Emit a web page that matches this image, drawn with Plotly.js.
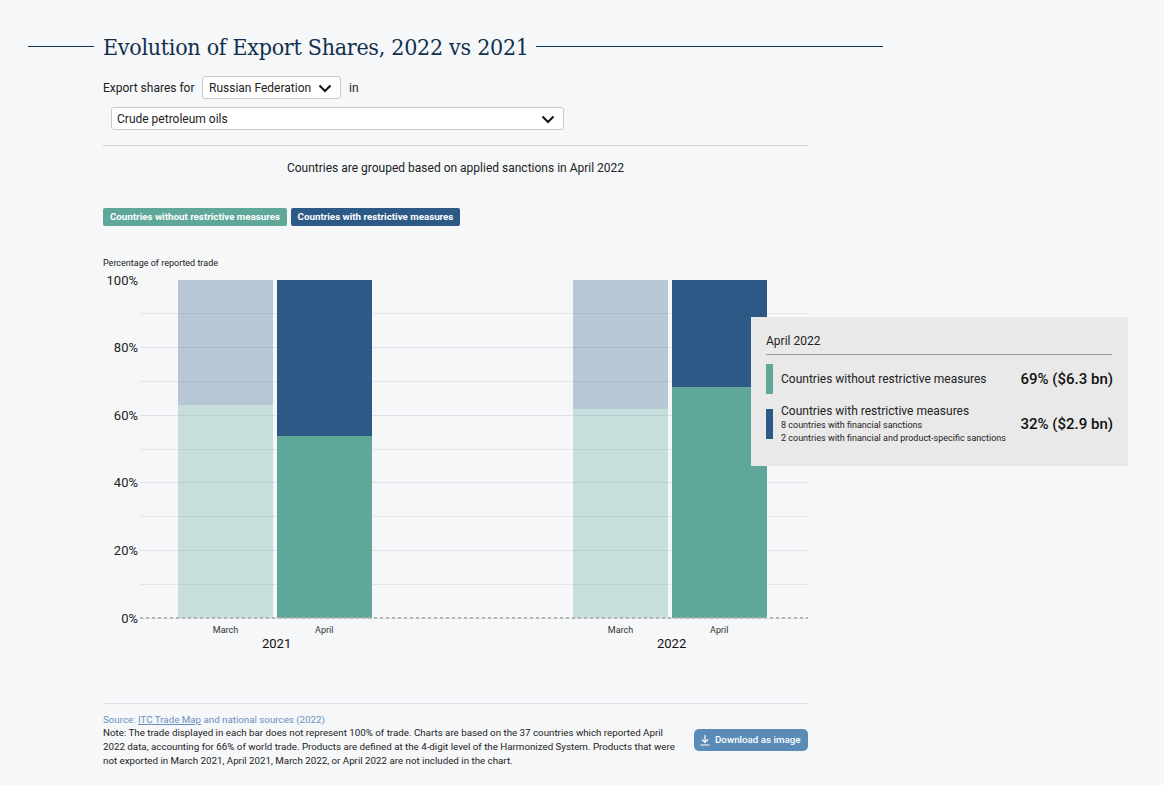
<!DOCTYPE html>
<html><head><meta charset="utf-8">
<script src="https://cdn.plot.ly/plotly-3.0.1.min.js"></script>
<style>
html,body{margin:0;padding:0;background:#f5f7f9;width:1164px;height:785px;overflow:hidden;font-family:Roboto,sans-serif;color:#222;}
.a{position:absolute;white-space:nowrap;}
.sel{background:#fff;border:1px solid #c9c9c9;border-radius:3px;box-sizing:border-box;font-size:12px;line-height:23px;padding-left:5px;}
.sel svg{position:absolute;right:8px;top:7px;}
.pill{color:#fff;font-weight:700;font-size:9.75px;border-radius:2px;height:18px;line-height:18px;text-align:center;}
#chart{position:absolute;left:0;top:0;width:1164px;height:785px;}
</style></head><body>
<div id="chart"></div>
<div class="a" style="left:28px;top:46px;width:66px;height:1px;background:#0b3558"></div>
<div class="a" style="left:536px;top:46px;width:347px;height:1px;background:#0b3558"></div>
<div class="a" id="ttl" style="left:103px;top:32px;font-family:'DejaVu Serif Condensed','DejaVu Serif',serif;font-size:23px;letter-spacing:-0.28px;line-height:30px;color:#12304e;">Evolution of Export Shares, 2022 vs 2021</div>
<div class="a" style="left:103px;top:80px;font-size:12px;line-height:16px;">Export shares for</div>
<div class="a sel" style="left:202px;top:76px;width:139px;height:23px;padding-left:6px;">Russian Federation<svg width="14" height="9" viewBox="0 0 14 9"><path d="M1.5 1.5 7 7 12.5 1.5" fill="none" stroke="#111" stroke-width="2"/></svg></div>
<div class="a" style="left:349px;top:80px;font-size:12px;line-height:16px;">in</div>
<div class="a sel" style="left:111px;top:107px;width:453px;height:23px;">Crude petroleum oils<svg width="14" height="9" viewBox="0 0 14 9"><path d="M1.5 1.5 7 7 12.5 1.5" fill="none" stroke="#111" stroke-width="2"/></svg></div>
<div class="a" style="left:103px;top:145px;width:705px;height:1px;background:#cfcfcf"></div>
<div class="a" style="left:103px;top:160px;width:705px;text-align:center;font-size:12px;line-height:16px;">Countries are grouped based on applied sanctions in April 2022</div>
<div class="a pill" style="left:103px;top:208px;width:184px;background:#5fa799;">Countries without restrictive measures</div>
<div class="a pill" style="left:291px;top:208px;width:169px;background:#2c5985;">Countries with restrictive measures</div>
<div class="a" style="left:103px;top:257px;font-size:9px;line-height:13px;">Percentage of reported trade</div>

<div class="a" style="left:751px;top:317px;width:377px;height:149px;background:#e9e9e9;"></div>
<div class="a" style="left:766px;top:333px;font-size:12px;line-height:16px;">April 2022</div>
<div class="a" style="left:766px;top:354px;width:346px;height:1px;background:#9a9a9a"></div>
<div class="a" style="left:766px;top:364px;width:7px;height:30px;background:#5fa799"></div>
<div class="a" style="left:781px;top:371px;font-size:12px;line-height:16px;">Countries without restrictive measures</div>
<div class="a" style="right:51px;top:370px;font-size:15px;line-height:18px;font-weight:500;color:#111">69% ($6.3 bn)</div>
<div class="a" style="left:766px;top:409px;width:7px;height:30px;background:#2c5985"></div>
<div class="a" style="left:781px;top:403px;font-size:12px;line-height:16px;">Countries with restrictive measures</div>
<div class="a" style="left:781px;top:419px;font-size:9px;line-height:13px;">8 countries with financial sanctions</div>
<div class="a" style="left:781px;top:432px;font-size:9px;line-height:13px;">2 countries with financial and product-specific sanctions</div>
<div class="a" style="right:51px;top:415px;font-size:15px;line-height:18px;font-weight:500;color:#111">32% ($2.9 bn)</div>

<div class="a" style="left:103px;top:703px;width:705px;height:1px;background:#dcdfe3"></div>
<div class="a" style="left:103px;top:713px;font-size:9.75px;line-height:13px;color:#6a8fbd;">Source: <u>ITC Trade Map</u> and national sources (2022)</div>
<div class="a" style="left:103px;top:726px;font-size:9.75px;line-height:14px;color:#222;">Note: The trade displayed in each bar does not represent 100% of trade. Charts are based on the 37 countries which reported April<br>2022 data, accounting for 66% of world trade. Products are defined at the 4-digit level of the Harmonized System. Products that were<br>not exported in March 2021, April 2021, March 2022, or April 2022 are not included in the chart.</div>
<div class="a" style="left:694px;top:729px;width:114px;height:22px;background:#5b8cb8;border-radius:5px;color:#fff;font-size:9.75px;font-weight:500;line-height:22px;padding-left:21px;box-sizing:border-box;">Download as image<svg style="position:absolute;left:6px;top:6px" width="10" height="11" viewBox="0 0 10 11"><path d="M5 0V7M2 4.5 5 7.5 8 4.5M0.5 10H9.5" fill="none" stroke="#fff" stroke-width="1.2"/></svg></div>

<script>
const months = ['March','April','March','April'];
const years = ['2021','2022'];
const monthPos = [0,1,4,5];
const yearPos = [0.5,4.5];
const withoutMeasures = [62.9,53.7,61.7,68.3];
const withMeasures = [37.1,46.3,38.3,31.7];
const yTicks = [0,20,40,60,80,100];
const yTickLabels = ['0%','20%','40%','60%','80%','100%'];
const minorTicks = [10,30,50,70,90];
const green = '#5fa799', navy = '#2c5985';
const barOpacity = [0.3,1,0.3,1];
const traces = [
 {type:'bar',x:monthPos,y:withoutMeasures,name:'Countries without restrictive measures',width:0.962,marker:{color:green,opacity:barOpacity,line:{width:0}},hoverinfo:'skip'},
 {type:'bar',x:monthPos,y:withMeasures,name:'Countries with restrictive measures',width:0.962,marker:{color:navy,opacity:barOpacity,line:{width:0}},hoverinfo:'skip'}
];
const annotations = years.map((t,i)=>({x:yearPos[i],y:0,xref:'x',yref:'y',text:t,showarrow:false,yanchor:'top',yshift:-16,xshift:2,font:{size:13,color:'#111',family:'Roboto'}}));
const layout = {
 width:1164,height:785,autosize:false,showlegend:false,barmode:'stack',
 paper_bgcolor:'rgba(0,0,0,0)',plot_bgcolor:'rgba(0,0,0,0)',
 margin:{l:140,r:356,t:280,b:165},
 font:{family:'Roboto',color:'#222'},
 xaxis:{range:[-0.866,5.899],tickmode:'array',tickvals:monthPos,ticktext:months,tickfont:{size:9,color:'#333'},showgrid:false,zeroline:false,showline:false,ticks:'outside',ticklen:1,tickcolor:'rgba(0,0,0,0)',fixedrange:true},
 yaxis:{range:[-0.592,100],tickmode:'array',tickvals:yTicks,ticktext:yTickLabels,tickfont:{size:13,color:'#222'},ticklabelstandoff:1,gridcolor:'#dfe2e6',gridwidth:1,zeroline:false,showline:false,ticks:'',ticklen:0,fixedrange:true,
   minor:{tickmode:'array',tickvals:minorTicks,showgrid:true,gridcolor:'#e3e5e8',gridwidth:1,ticks:''}},
 shapes:[{type:'line',xref:'paper',yref:'y',x0:0,x1:1,y0:0,y1:0,layer:'above',line:{color:'#b5b5b5',width:2,dash:'3px,3px'}}],
 annotations
};
Plotly.newPlot('chart',traces,layout,{displayModeBar:false,staticPlot:true});
</script>
</body></html>
